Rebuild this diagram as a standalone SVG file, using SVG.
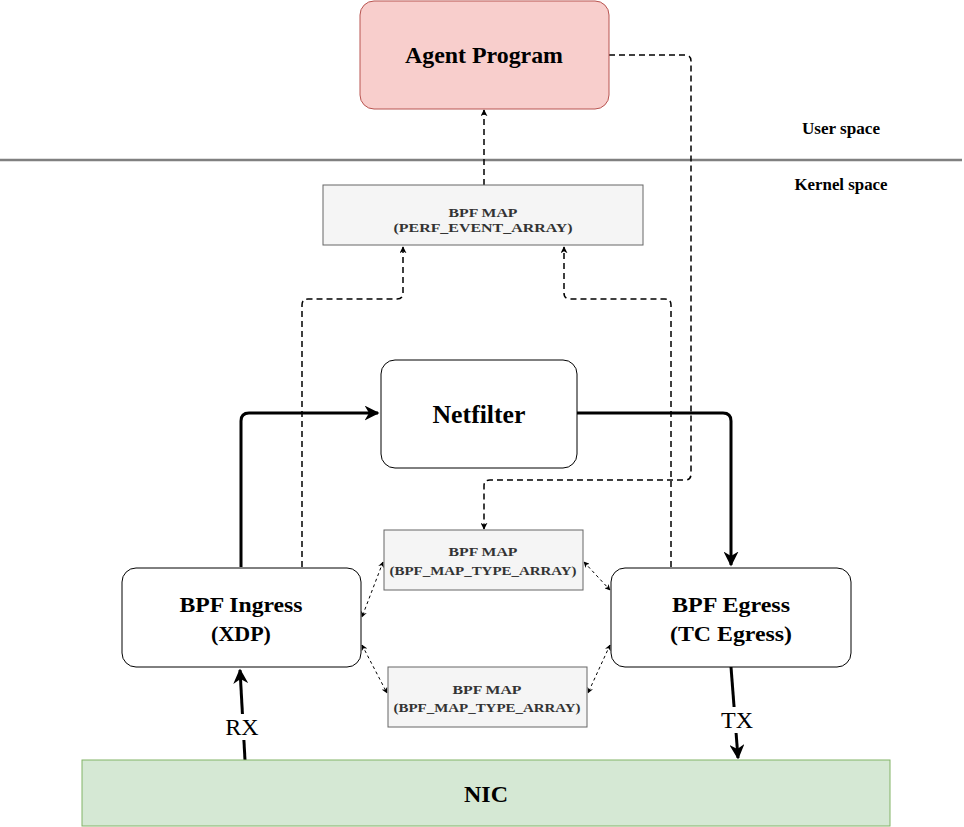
<svg xmlns="http://www.w3.org/2000/svg" width="964" height="827" viewBox="0 0 964 827">
<style>
.t{font-family:"Liberation Serif","Times New Roman",serif;font-weight:bold;text-anchor:middle;fill:#000}
.m{font-family:"Liberation Serif","Times New Roman",serif;font-weight:bold;text-anchor:middle;fill:#333;font-size:13px}
.node{fill:#fff;stroke:#000;stroke-width:1}
.map{fill:#f5f5f5;stroke:#666;stroke-width:1}
.thick{fill:none;stroke:#000;stroke-width:3}
.dash{fill:none;stroke:#000;stroke-width:1.5;stroke-dasharray:6 4}
.dsm{fill:none;stroke:#000;stroke-width:1;stroke-dasharray:3 3}
.lbl{font-family:"Liberation Serif","Times New Roman",serif;font-size:24px;text-anchor:middle;fill:#000}
</style>
<defs>
<marker id="ab" viewBox="0 0 10 10" refX="9" refY="5" markerWidth="5" markerHeight="5" orient="auto" markerUnits="strokeWidth"><path d="M0,0 L10,5 L0,10 L3,5 z" fill="#000"/></marker>
<marker id="ad" viewBox="0 0 10 10" refX="9" refY="5" markerWidth="7" markerHeight="7" orient="auto" markerUnits="userSpaceOnUse"><path d="M0,0 L10,5 L0,10 L3,5 z" fill="#000"/></marker>
<marker id="as" viewBox="0 0 10 10" refX="9" refY="5" markerWidth="6" markerHeight="6" orient="auto-start-reverse" markerUnits="userSpaceOnUse"><path d="M0,0 L10,5 L0,10 L3,5 z" fill="#000"/></marker>
</defs>
<line x1="0" y1="160" x2="962" y2="160" stroke="#808080" stroke-width="2.5"/>
<text class="t" x="841" y="134" font-size="16" textLength="78" lengthAdjust="spacingAndGlyphs">User space</text>
<text class="t" x="841" y="190" font-size="16" textLength="93" lengthAdjust="spacingAndGlyphs">Kernel space</text>
<g id="connectors">
<path class="thick" marker-end="url(#ab)" d="M241,567 L241,421 Q241,413 249,413 L378,413"/>
<path class="thick" marker-end="url(#ab)" d="M577,413 L723,413 Q731,413 731,421 L731,565"/>
<path class="thick" marker-end="url(#ab)" d="M245,760 L240,670"/>
<path class="thick" marker-end="url(#ab)" d="M731,667 L738,758"/>
<path class="dash" marker-end="url(#ad)" d="M484,185 L484,110"/>
<path class="dash" marker-end="url(#ad)" d="M302,567 L302,305 Q302,299 308,299 L397,299 Q403,299 403,293 L403,247"/>
<path class="dash" marker-end="url(#ad)" d="M671,567 L671,305 Q671,299 665,299 L570,299 Q564,299 564,293 L564,247"/>
<path class="dash" marker-end="url(#ad)" d="M609,55 L685,55 Q691,55 691,61 L691,474 Q691,480 685,480 L490,480 Q484,480 484,486 L484,529"/>
<path class="dsm" marker-start="url(#as)" marker-end="url(#as)" d="M383,562 L362,617"/>
<path class="dsm" marker-start="url(#as)" marker-end="url(#as)" d="M584,562 L610,590"/>
<path class="dsm" marker-start="url(#as)" marker-end="url(#as)" d="M362,645 L387,693"/>
<path class="dsm" marker-start="url(#as)" marker-end="url(#as)" d="M610,645 L588,693"/>
<rect x="222" y="714" width="42" height="26" fill="#fff"/>
<text class="lbl" x="242" y="735">RX</text>
<rect x="716" y="707" width="42" height="26" fill="#fff"/>
<text class="lbl" x="737" y="728">TX</text>
</g>
<g id="agent">
<rect x="360" y="1" width="249" height="108" rx="14" fill="#f8cecc" stroke="#b85450"/>
<text class="t" x="484" y="63" font-size="24" textLength="158" lengthAdjust="spacingAndGlyphs">Agent Program</text>
</g>
<g id="perf-map">
<rect class="map" x="323" y="185" width="320" height="60"/>
<text class="m" x="483" y="217" textLength="69" lengthAdjust="spacingAndGlyphs">BPF MAP</text>
<text class="m" x="483" y="232" textLength="179" lengthAdjust="spacingAndGlyphs">(PERF_EVENT_ARRAY)</text>
</g>
<g id="netfilter">
<rect class="node" x="381" y="360" width="196" height="108" rx="14"/>
<text class="t" x="479" y="423" font-size="25" textLength="93" lengthAdjust="spacingAndGlyphs">Netfilter</text>
</g>
<g id="ingress">
<rect class="node" x="122" y="568" width="239" height="99" rx="14"/>
<text class="t" x="241" y="612" font-size="22" textLength="123" lengthAdjust="spacingAndGlyphs">BPF Ingress</text>
<text class="t" x="241" y="641" font-size="22">(XDP)</text>
</g>
<g id="egress">
<rect class="node" x="611" y="568" width="240" height="99" rx="14"/>
<text class="t" x="731" y="612" font-size="22" textLength="118" lengthAdjust="spacingAndGlyphs">BPF Egress</text>
<text class="t" x="731" y="641" font-size="22" textLength="122" lengthAdjust="spacingAndGlyphs">(TC Egress)</text>
</g>
<g id="map1">
<rect class="map" x="384" y="530" width="199" height="60"/>
<text class="m" x="483" y="556" textLength="69" lengthAdjust="spacingAndGlyphs">BPF MAP</text>
<text class="m" x="483" y="575" textLength="187" lengthAdjust="spacingAndGlyphs">(BPF_MAP_TYPE_ARRAY)</text>
</g>
<g id="map2">
<rect class="map" x="388" y="667" width="199" height="60"/>
<text class="m" x="487" y="694" textLength="69" lengthAdjust="spacingAndGlyphs">BPF MAP</text>
<text class="m" x="487" y="712" textLength="187" lengthAdjust="spacingAndGlyphs">(BPF_MAP_TYPE_ARRAY)</text>
</g>
<g id="nic">
<rect x="82" y="760" width="808" height="66" fill="#d5e8d4" stroke="#82b366"/>
<text class="t" x="486" y="802" font-size="24">NIC</text>
</g>
</svg>
